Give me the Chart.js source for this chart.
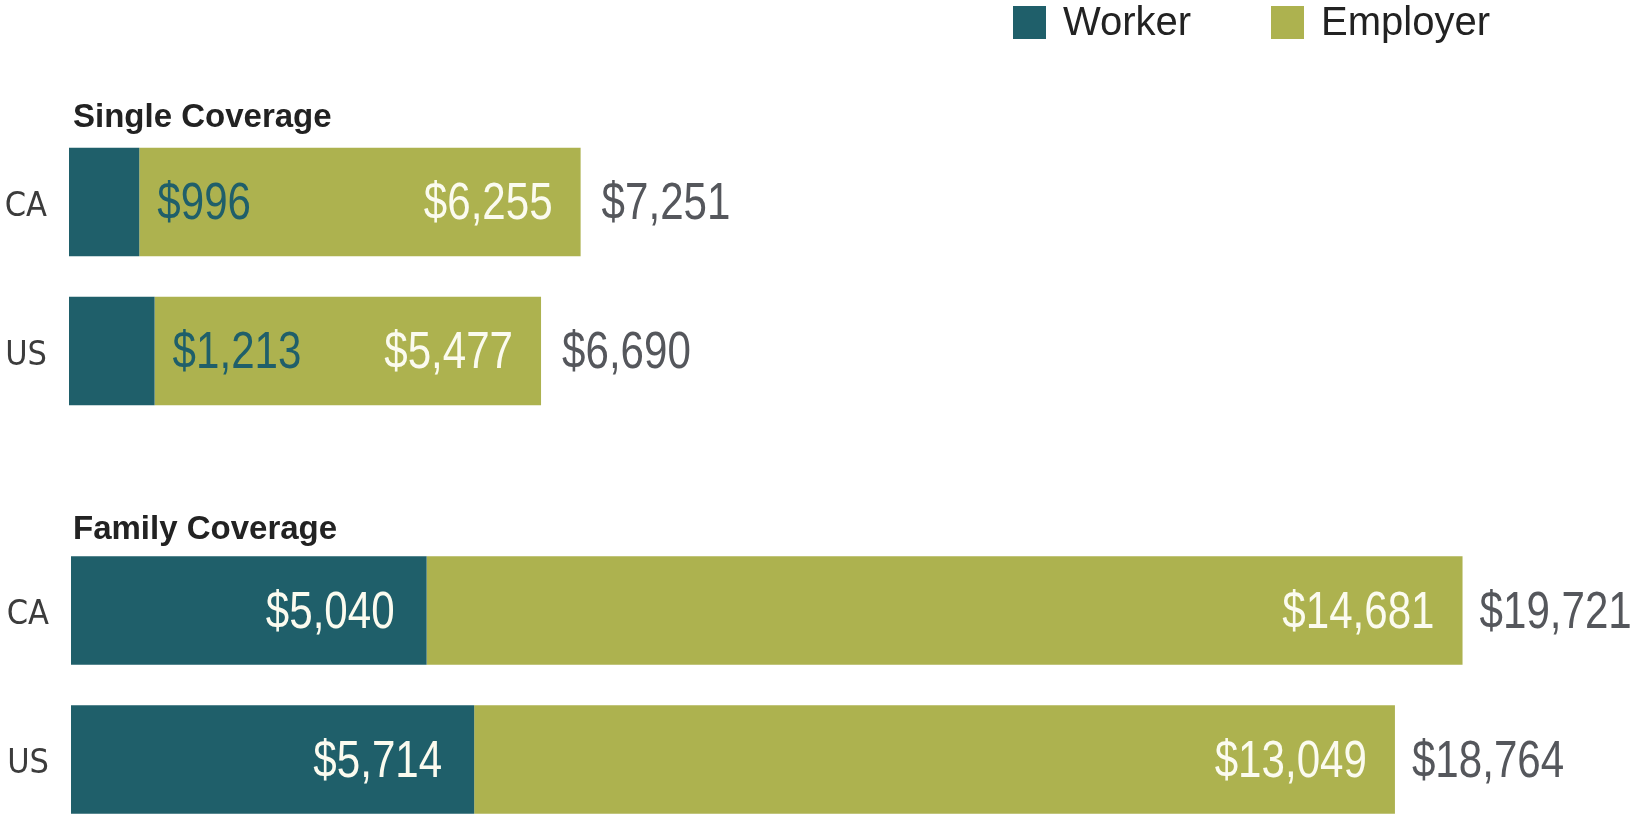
<!DOCTYPE html>
<html>
<head>
<meta charset="utf-8">
<script src="https://cdn.jsdelivr.net/npm/chart.js@4.4.1/dist/chart.umd.min.js"></script>
<style>
  html, body { margin: 0; padding: 0; background: #fff; overflow: hidden; }
  #wrap { position: relative; width: 1634px; height: 814px; overflow: hidden; }
  .box { position: absolute; left: 0; width: 1634px; }
  #boxSingle { top: 0; height: 440px; }
  #boxFamily { top: 440px; height: 420px; } /* runs past the bottom edge, like the cropped original */
</style>
</head>
<body>
<div id="wrap">
  <div class="box" id="boxSingle"><canvas id="singleChart"></canvas></div>
  <div class="box" id="boxFamily"><canvas id="familyChart"></canvas></div>
</div>
<script>
// --- data: annual premium split, in dollars ---
const regions = ['CA', 'US'];
const seriesNames = ['Worker', 'Employer'];
const singleWorker = [996, 1213];
const singleEmployer = [6255, 5477];
const singleTotal = [7251, 6690];
const familyWorker = [5040, 5714];
const familyEmployer = [14681, 13049];
const familyTotal = [19721, 18764]; // as printed (rounded)
const groupTitles = ['Single Coverage', 'Family Coverage'];

const WORKER_COLOR = '#1f5f6a';
const EMPLOYER_COLOR = '#adb24f';
const LIGHT_TEXT = '#fbfbef';
const TOTAL_TEXT = '#55575c';
const TEXT_FONT = "'Liberation Sans', Arial, sans-serif";
const NARROW = 0.81; // squeeze Liberation Sans to look like a condensed face

function money(v) {
    return '$' + v.toLocaleString('en-US');
}

function narrowText(ctx, text, x, y) {
    ctx.save();
    ctx.translate(x, y);
    ctx.scale(NARROW, 1);
    ctx.fillText(text, 0, 0);
    ctx.restore();
}

// --- value labels on / after each stacked bar ---
const valueLabels = {
    id: 'valueLabels',
    afterDatasetsDraw(chart, args, opts) {
        const ctx = chart.ctx;
        const wMeta = chart.getDatasetMeta(0);
        const eMeta = chart.getDatasetMeta(1);
        const wData = chart.data.datasets[0].data;
        const eData = chart.data.datasets[1].data;
        ctx.save();
        ctx.font = '52px ' + TEXT_FONT;
        ctx.textBaseline = 'middle';
        wMeta.data.forEach((wBar, i) => {
            const eBar = eMeta.data[i];
            const y = wBar.y + 3;
            if (opts.workerInside) {
                ctx.textAlign = 'right';
                ctx.fillStyle = LIGHT_TEXT;
                narrowText(ctx, money(wData[i]), wBar.x - opts.workerPad, y);
            } else {
                // worker slice too thin: label sits in the employer slice
                ctx.textAlign = 'left';
                ctx.fillStyle = WORKER_COLOR;
                narrowText(ctx, money(wData[i]), wBar.x + 18, y);
            }
            ctx.textAlign = 'right';
            ctx.fillStyle = LIGHT_TEXT;
            narrowText(ctx, money(eData[i]), eBar.x - 28, y);
            ctx.textAlign = 'left';
            ctx.fillStyle = TOTAL_TEXT;
            narrowText(ctx, money(opts.totals[i]), eBar.x + opts.totalGap, y);
        });
        ctx.restore();
    }
};

// --- group heading (left, above the bars) ---
const groupTitle = {
    id: 'groupTitle',
    afterDraw(chart, args, opts) {
        const ctx = chart.ctx;
        ctx.save();
        ctx.font = 'bold 33px ' + TEXT_FONT;
        ctx.fillStyle = '#222222';
        ctx.textAlign = 'left';
        ctx.textBaseline = 'alphabetic';
        ctx.fillText(opts.text, opts.x, opts.y);
        ctx.restore();
    }
};

// --- square-swatch legend, top right ---
const boxLegend = {
    id: 'boxLegend',
    afterDraw(chart, args, opts) {
        if (!opts.show) return;
        const ctx = chart.ctx;
        ctx.save();
        ctx.font = '40px ' + TEXT_FONT;
        ctx.textBaseline = 'middle';
        ctx.textAlign = 'left';
        chart.data.datasets.forEach((ds, i) => {
            const x = opts.xs[i];
            ctx.fillStyle = ds.backgroundColor;
            ctx.fillRect(x, opts.y, opts.size, opts.size);
            ctx.fillStyle = '#222222';
            ctx.fillText(ds.label, x + opts.size + 17, opts.y + opts.size / 2 + 1);
        });
        ctx.restore();
    }
};

function makeChart(canvasId, workerVals, employerVals, totals, cfg) {
    const ctx = document.getElementById(canvasId).getContext('2d');
    return new Chart(ctx, {
        type: 'bar',
        data: {
            labels: regions,
            datasets: [{
                label: seriesNames[0],
                data: workerVals,
                backgroundColor: WORKER_COLOR,
                borderWidth: 0,
                categoryPercentage: 0.728,
                barPercentage: 1
            }, {
                label: seriesNames[1],
                data: employerVals,
                backgroundColor: EMPLOYER_COLOR,
                borderWidth: 0,
                categoryPercentage: 0.728,
                barPercentage: 1
            }]
        },
        options: {
            indexAxis: 'y',
            responsive: true,
            maintainAspectRatio: false,
            animation: false,
            events: [],
            layout: { padding: { top: cfg.padTop, bottom: cfg.padBottom, left: 0, right: 0 } },
            scales: {
                x: {
                    stacked: true,
                    display: false,
                    min: 0,
                    max: cfg.xMax
                },
                y: {
                    stacked: true,
                    grid: { display: false, drawTicks: false },
                    border: { display: false },
                    ticks: {
                        color: '#3c3c3c',
                        padding: 22,
                        labelOffset: 5,
                        font: { family: "'DejaVu Sans Condensed', 'DejaVu Sans', sans-serif", size: 34 }
                    },
                    afterFit(scale) {
                        scale.width = cfg.leftW;
                        // keep tick-label room from eating into the plot height
                        scale.paddingTop = 0;
                        scale.paddingBottom = 0;
                    }
                }
            },
            plugins: {
                legend: { display: false },
                tooltip: { enabled: false },
                valueLabels: { workerInside: cfg.workerInside, workerPad: 32, totalGap: cfg.totalGap, totals: totals },
                groupTitle: { text: cfg.title, x: 73, y: cfg.titleY },
                boxLegend: { show: cfg.legend, xs: [1013, 1271], y: 6, size: 33 }
            }
        },
        plugins: [valueLabels, groupTitle, boxLegend]
    });
}

makeChart('singleChart', singleWorker, singleEmployer, singleTotal, {
    title: groupTitles[0], titleY: 127, legend: true,
    padTop: 127.5, padBottom: 14.5, leftW: 69, xMax: 22180,
    workerInside: false, totalGap: 21
});
makeChart('familyChart', familyWorker, familyEmployer, familyTotal, {
    title: groupTitles[1], titleY: 99, legend: false,
    padTop: 96, padBottom: 26, leftW: 71, xMax: 22151,
    workerInside: true, totalGap: 17
});
</script>
</body>
</html>
